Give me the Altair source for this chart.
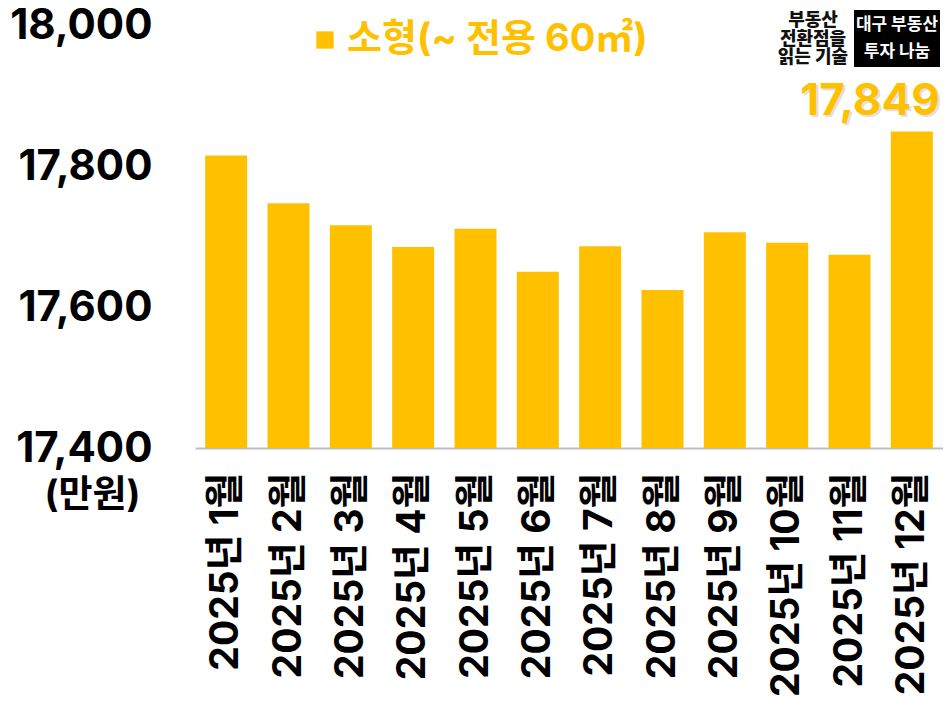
import altair as alt
import pandas as pd

months = ["2025년 1월", "2025년 2월", "2025년 3월", "2025년 4월", "2025년 5월", "2025년 6월",
          "2025년 7월", "2025년 8월", "2025년 9월", "2025년 10월", "2025년 11월", "2025년 12월"]
values = [17815, 17747, 17716, 17685, 17711, 17650, 17686, 17624, 17706, 17691, 17674, 17849]
series_name = "소형(~ 전용 60㎡)"
y_ticks = [17400, 17600, 17800, 18000]
y_min, y_max = 17400, 18000
logo_left = ["부동산", "전환점을", "읽는 기술"]
logo_box = ["대구 부동산", "투자 나눔"]

FONT = "Inter, 'Noto Sans CJK KR'"
KFONT = "Noto Sans CJK KR"
YELLOW = "#FFC000"

df = pd.DataFrame({"month": months, "value": values, "series": [series_name] * len(months)})
last = df.iloc[[-1]]

x_enc = alt.X("month:N", sort=months,
              scale=alt.Scale(paddingInner=0.326, paddingOuter=0.163),
              axis=alt.Axis(title=None, labelAngle=-90, labelFontSize=39, labelFont=FONT,
                            labelFontWeight="bold", labelColor="#000000", labelPadding=24,
                            labelLimit=0, ticks=False, domainColor="#bfbfbf", domainWidth=2))
y_scale = alt.Scale(domain=[y_min, y_max], zero=False, nice=False)

bars = alt.Chart(df).mark_bar(color=YELLOW).encode(
    x=x_enc,
    y=alt.Y("value:Q", scale=y_scale,
            axis=alt.Axis(values=y_ticks, format=",.0f", title="(만원)", titleAngle=0,
                          titleX=-103, titleY=470, titleAlign="center", titleBaseline="middle",
                          titleFontSize=37, titleFont=FONT, titleFontWeight="bold",
                          titleColor="#000000", labelFontSize=42, labelFont=FONT,
                          labelFontWeight="bold", labelColor="#000000", labelPadding=43,
                          labelLimit=0, ticks=False, domain=False, grid=False)),
    y2=alt.datum(y_min),
    color=alt.Color("series:N", scale=alt.Scale(range=[YELLOW]),
                    legend=alt.Legend(orient="none", legendX=111, legendY=-4, title=None,
                                      symbolType="square", symbolSize=300, symbolStrokeWidth=0,
                                      labelFontSize=38, labelFont=FONT, labelFontWeight="bold",
                                      labelColor=YELLOW, labelOffset=3, labelLimit=0, padding=0)),
)

label_shadow = alt.Chart(last).mark_text(
    align="right", baseline="bottom", dx=30, dy=-5, font=FONT, fontSize=44,
    fontWeight="bold", color="#9a9a9a", opacity=0.3
).encode(x=alt.X("month:N", sort=months), y="value:Q", text=alt.Text("value:Q", format=",.0f"))

label = alt.Chart(last).mark_text(
    align="right", baseline="bottom", dx=28, dy=-7, font=FONT, fontSize=44,
    fontWeight="bold", color=YELLOW
).encode(x=alt.X("month:N", sort=months), y="value:Q", text=alt.Text("value:Q", format=",.0f"))

logo_l = alt.Chart(pd.DataFrame({"t": ["\n".join(logo_left)]})).mark_text(
    font=KFONT, fontSize=18, fontWeight=900, color="#111111", baseline="top", align="center",
    lineBreak="\n", lineHeight=18.5
).encode(x=alt.value(618), y=alt.value(-13), text="t:N")

box = alt.Chart(pd.DataFrame({"a": [1]})).mark_rect(color="#000000").encode(
    x=alt.value(659), x2=alt.value(745), y=alt.value(-15), y2=alt.value(42))

logo_b = alt.Chart(pd.DataFrame({"t": ["\n".join(logo_box)]})).mark_text(
    font=KFONT, fontSize=17, fontWeight="bold", color="#ffffff", baseline="top", align="center",
    lineBreak="\n", lineHeight=27
).encode(x=alt.value(702), y=alt.value(-8), text="t:N")

chart = alt.layer(bars, label_shadow, label, box, logo_l, logo_b).properties(
    width=748, height=423,
    background="#ffffff",
    autosize=alt.AutoSizeParams(type="none"),
    padding={"left": 187, "top": 17, "right": 0, "bottom": 255},
).configure_view(stroke=None)

chart.save("out.html", embed_options={"renderer": "svg", "actions": False})
